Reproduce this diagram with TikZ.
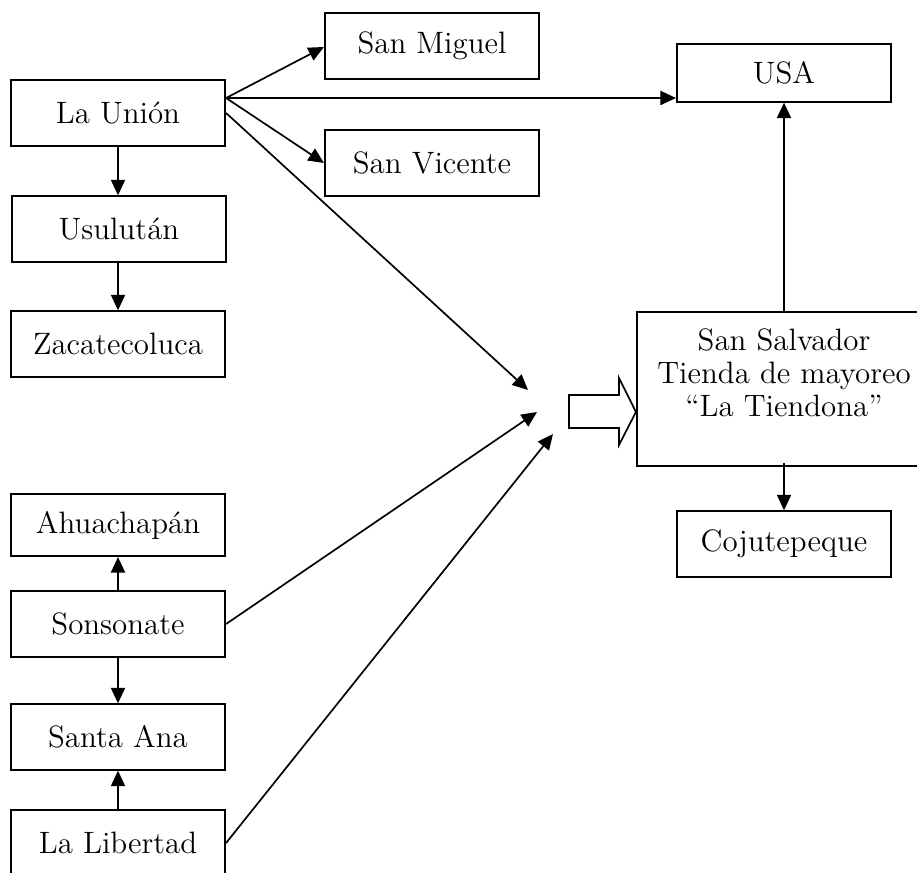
\documentclass[tikz,border=0pt]{standalone}
\usepackage{tikz}
\usetikzlibrary{arrows.meta}

\begin{document}
\begin{tikzpicture}[x=0.0125cm,y=-0.0125cm,
    box/.style={draw,line width=0.6pt,minimum width=2.68cm,minimum height=0.82cm,
        inner sep=2pt,font=\fontsize{11}{11.6}\selectfont},
    flow/.style={line width=0.6pt,-{Triangle[length=5.5pt,width=5pt]}}]
    \clip (0,0) rectangle (917,873);

    % towns in the east
    \node[box] (union) at (118,113) {La Uni\'on};
    \node[box] (usulutan) at (119,229) {Usulut\'an};
    \node[box] (zacate) at (118,344) {Zacatecoluca};
    \node[box] (miguel) at (432,46) {San Miguel};
    \node[box] (vicente) at (432,163) {San Vicente};
    \node[box,minimum height=0.72cm] (usa) at (784,73) {USA};

    % towns in the west
    \node[box,minimum height=0.78cm] (ahuacha) at (118,525) {Ahuachap\'an};
    \node[box] (sonso) at (118,624) {Sonsonate};
    \node[box] (ana) at (118,737) {Santa Ana};
    \node[box] (liber) at (118,843) {La Libertad};

    % wholesale market
    \node[box,minimum width=3.68cm,minimum height=1.93cm,align=center] (sansal) at (784,389)
        {San Salvador\\Tienda de mayoreo\\``La Tiendona''\\};
    \node[box] (cojute) at (784,544) {Cojutepeque};

    % meeting points
    \coordinate (m1) at (528,390);
    \coordinate (m2) at (537,412);
    \coordinate (m3) at (553,434);

    \draw[flow] (union.east) ++(0,-15) coordinate (u0) -- (miguel.west |- 0,47);
    \draw[flow] (u0) -- (usa.west |- 0,98);
    \draw[flow] (u0) -- (vicente.west |- 0,163);
    \draw[flow] (union.east) -- (m1);
    \draw[flow] (union) -- (union |- usulutan.north);
    \draw[flow] (union |- usulutan.south) -- (zacate);

    \draw[flow] (sonso) -- (ahuacha);
    \draw[flow] (sonso) -- (ana);
    \draw[flow] (liber) -- (ana);
    \draw[flow] (sonso.east) -- (m2);
    \draw[flow] (liber.east) -- (m3);

    \draw[flow] (sansal) -- (usa);
    \draw[flow] (sansal.south) ++(0,-4) -- (cojute);

    % hollow arrow into San Salvador
    \draw[line width=0.6pt,fill=white] (569,395) -- (619,395) -- (619,378) -- (sansal.west |- 0,412)
        -- (619,445) -- (619,428) -- (569,428) -- cycle;
\end{tikzpicture}
\end{document}
